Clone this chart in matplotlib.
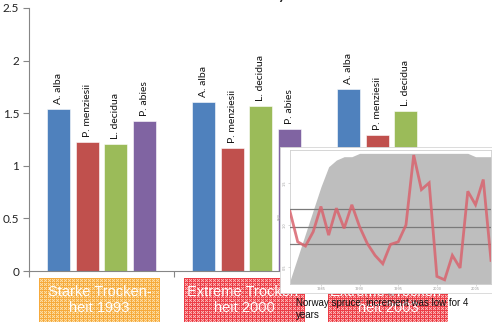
import numpy as np
import matplotlib
matplotlib.use("Agg")
import matplotlib.pyplot as plt
from matplotlib.patches import Rectangle

# ---- bar chart data: recovery of radial growth after drought ----
species = ["A. alba", "P. menziesii", "L. decidua", "P. abies"]
species_colors = ["#4F81BD", "#C0504D", "#9BBB59", "#8064A2"]
abies_alba = [1.54, 1.61, 1.73]
pseudotsuga_menziesii = [1.23, 1.17, 1.29]
larix_decidua = [1.21, 1.57, 1.52]
picea_abies = [1.43, 1.35, 0.78]
drought_events = ["Starke Trocken-\nheit 1993",
                  "Extreme Trocken-\nheit 2000",
                  "Extreme Trocken-\nheit 2003"]
y_ticks = [0, 0.5, 1, 1.5, 2, 2.5]

# ---- inset data: Norway spruce ring-width index ----
inset_years = list(range(1981, 2008))
spruce_rwi = [1.16, 0.80, 0.75, 0.92, 1.22, 0.88, 1.20, 0.96, 1.24, 0.98,
              0.78, 0.64, 0.54, 0.77, 0.80, 1.00, 1.83, 1.42, 1.50, 0.39,
              0.35, 0.64, 0.49, 1.40, 1.24, 1.54, 0.58]
sample_depth = [1, 8, 15, 22, 29, 35, 37, 38, 38, 39, 39, 39, 39, 39, 39,
                39, 39, 39, 39, 39, 39, 39, 39, 39, 38, 38, 38]
reference_levels = [1.19, 0.98, 0.78]
inset_xticks = [1985, 1990, 1995, 2000, 2005]
inset_yticks = [0.5, 1.0, 1.5]

W, H = 492, 322
fig = plt.figure(figsize=(W / 100, H / 100), dpi=100)


def px_axes(x0, y0, x1, y1, **kw):
    return fig.add_axes([x0 / W, 1 - y1 / H, (x1 - x0) / W, (y1 - y0) / H], **kw)


# ---- main bar chart ----
ax = px_axes(29, 8, 464, 271)
ax.set_zorder(0)
group_x = np.arange(len(drought_events))
bar_w = 0.158
step = 0.198
series = [abies_alba, pseudotsuga_menziesii, larix_decidua, picea_abies]
for i, (name, vals, col) in enumerate(zip(species, series, species_colors)):
    xs = group_x + (i - 1.5) * step
    ax.bar(xs, vals, width=bar_w, color=col, edgecolor="white", linewidth=0.4)
    for x, v in zip(xs, vals):
        ax.annotate(name, (x, v), xytext=(0, 3.5), textcoords="offset points",
                    rotation=90, ha="center", va="bottom", fontsize=7.5,
                    family="Lato", color="#111111")

ax.set_xlim(-0.5, 2.5)
ax.set_ylim(0, 2.5)
ax.set_yticks(y_ticks)
ax.set_yticklabels([f"{t:g}" for t in y_ticks], family="Lato", fontsize=8.5,
                   color="#222222")
ax.set_xticks([-0.5, 0.5, 1.5, 2.5])
ax.set_xticklabels([])
ax.tick_params(axis="both", direction="out", length=4, width=0.8,
               color="#868686", pad=3)
for s in ("top", "right"):
    ax.spines[s].set_visible(False)
for s in ("left", "bottom"):
    ax.spines[s].set_color("#868686")
    ax.spines[s].set_linewidth(0.8)


# ---- textured drought labels ----
def texture(w, h, base, light, grid):
    yy, xx = np.mgrid[0:h, 0:w]
    img = np.empty((h, w, 3))
    img[:] = np.array(base) / 255
    img[((xx + yy) % 2 == 0)] = np.array(light) / 255
    img[(xx % 4 == 0) | (yy % 4 == 0)] = np.array(grid) / 255
    return img


boxes = [
    ((39, 278, 160, 322), ((248, 185, 92), (252, 222, 165), (246, 170, 60))),
    ((184, 278, 305, 322), ((242, 95, 100), (250, 180, 182), (236, 60, 70))),
    ((328, 278, 448, 322), ((242, 95, 100), (250, 180, 182), (236, 60, 70))),
]
for (x0, y0, x1, y1), cols in boxes:
    bx = px_axes(x0, y0, x1, y1)
    bx.set_zorder(2)
    bx.imshow(texture(x1 - x0, y1 - y0, *cols), interpolation="nearest",
              extent=(0, 1, 0, 1), aspect="auto")
    bx.set_axis_off()
    bx.set_xlim(0, 1)
    bx.set_ylim(0, 1)
for (x0, y0, x1, y1), label in zip([b[0] for b in boxes], drought_events):
    fig.text((x0 + x1) / 2 / W, 1 - 300 / H, label, ha="center",
             va="center", fontsize=10.5, family="Liberation Sans",
             color="white", linespacing=1.15, zorder=3)

# ---- inset: spruce ring-width chronology ----
fig.add_artist(Rectangle((280 / W, 1 - 293 / H), 212 / W, 146 / H,
                         transform=fig.transFigure, facecolor="white",
                         edgecolor="#d6d6d6", linewidth=0.6, zorder=5))
ins = px_axes(290, 150, 491, 284)
ins.set_zorder(6)
ins.fill_between(inset_years, sample_depth, 0, color="#bebebe", lw=0)
ins.set_ylim(0, 40)
ins.set_xlim(inset_years[0], inset_years[-1])
ins.set_yticks([])
ins.set_xticks(inset_xticks)
ins.set_xticklabels([str(t) for t in inset_xticks], fontsize=2.5,
                    color="#9a9a9a")
ins.tick_params(axis="x", length=1.5, width=0.4, color="#bbbbbb", pad=0.8)
ins.set_xlabel("Year", fontsize=2.5, color="#9a9a9a", labelpad=1.2)
for s in ins.spines.values():
    s.set_color("#cfcfcf")
    s.set_linewidth(0.6)

rwi = ins.twinx()
rwi.set_ylim(0.30, 1.89)
for lvl in reference_levels:
    rwi.axhline(lvl, color="#7a7a7a", lw=0.9)
rwi.plot(inset_years, spruce_rwi, color="#d9646e", lw=2.0, alpha=0.85,
         solid_joinstyle="miter")
rwi.yaxis.tick_left()
rwi.yaxis.set_label_position("left")
rwi.set_yticks(inset_yticks)
rwi.set_yticklabels([f"{t:.1f}" for t in inset_yticks], fontsize=2.5,
                    color="#9a9a9a", rotation=90, va="center")
rwi.tick_params(axis="y", length=1.5, width=0.4, color="#bbbbbb", pad=0.8)
rwi.set_ylabel("RWI", fontsize=2.5, color="#9a9a9a", labelpad=1)
for s in rwi.spines.values():
    s.set_visible(False)

# ---- annotation and title ----
fig.text(296 / W, 1 - 298 / H, "Norway spruce: increment was low for 4\nyears",
         ha="left", va="top", fontsize=7, family="Liberation Sans",
         color="#111111", linespacing=1.3, zorder=10)
fig.text(288 / W, 1 + 1 / H, "Recovery", ha="right", va="baseline",
         fontsize=14, family="Lato", color="#222222", zorder=10)

fig.savefig("out.png", dpi=100)
